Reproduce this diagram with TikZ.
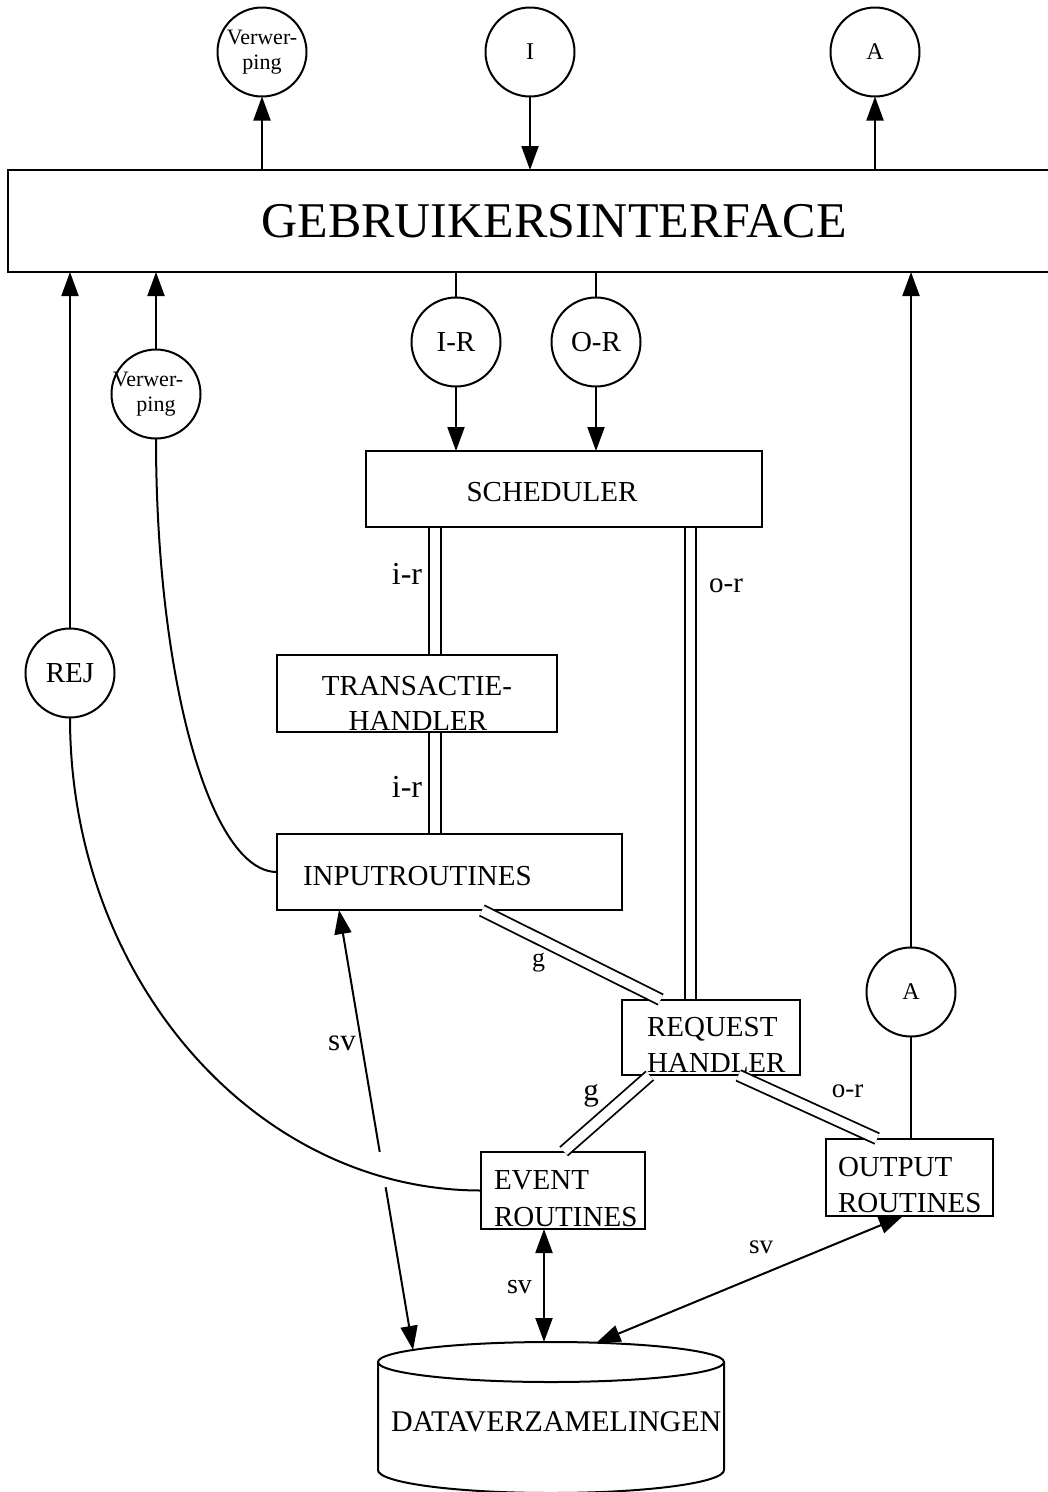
\documentclass[tikz,border=0pt]{standalone}
\usepackage{fontspec}
\setmainfont{Liberation Serif}
\usetikzlibrary{arrows.meta,shapes.geometric,calc}

\begin{document}
\begin{tikzpicture}[x=1pt, y=-1pt,
  every node/.style={inner sep=0pt, outer sep=0pt},
  box/.style={draw, line width=2pt, rectangle},
  bubble/.style={draw, line width=2pt, circle, minimum size=89pt, align=center,
                 font=\fontsize{29pt}{35pt}\selectfont},
  small/.style={font=\fontsize{24pt}{28pt}\selectfont},
  tiny/.style={font=\fontsize{22pt}{25pt}\selectfont},
  txt/.style={font=\fontsize{29pt}{35pt}\selectfont},
  lab/.style={anchor=base, font=\fontsize{#1pt}{#1pt}\selectfont},
  flow/.style={line width=2pt},
  bigtip/.tip={Triangle[length=24pt,width=17pt]},
  arr/.style={flow, -bigtip},
  biarr/.style={flow, bigtip-bigtip},
  pair/.style={double, line width=1.8pt, double distance=9.5pt,
               shorten <=1pt, shorten >=1pt},
]
\fill[white] (0,0) rectangle (1048,1492);
\useasboundingbox (0,0) rectangle (1048,1492);

% --- user interface and its external flows
\node[box, minimum width=1092pt, minimum height=102pt,
      font=\fontsize{50pt}{60pt}\selectfont] (gui) at (554,221) {GEBRUIKERSINTERFACE};
\node[bubble, tiny]  (vtop) at (262,52) {\raisebox{-8pt}{Verwer-}\\\raisebox{-8pt}{ping}};
\node[bubble, small] (itop) at (530,52) {I};
\node[bubble, small] (atop) at (875,52) {A};

% --- flows between interface and scheduler
\node[bubble] (ir) at (456,342) {I-R};
\node[bubble] (or) at (596,342) {O-R};
\node[bubble, tiny] (vlow) at (156,394) {\hspace*{-16pt}Verwer-\\ping};
\node[bubble] (rej) at (70,673) {REJ};
\node[bubble, small] (alow) at (911,992) {A};

% --- processes
\node[box, minimum width=396pt, minimum height=76pt] (sched) at (564,489) {};
\node[txt, anchor=base] (sched-t) at (552,501.5) {SCHEDULER};

\node[box, minimum width=280pt, minimum height=77pt] (trans) at (417,693.5) {};
\node[txt, anchor=base] (trans-t1) at (417,695.5) {TRANSACTIE-};
\node[txt, anchor=base] (trans-t2) at (418,730) {HANDLER};

\node[box, minimum width=345pt, minimum height=76pt] (input) at (449.5,872) {};
\node[txt, anchor=base west] (input-t) at (303,885.5) {INPUTROUTINES};

\node[box, minimum width=178pt, minimum height=75pt] (req) at (711,1037.5) {};
\node[txt, anchor=base west] (req-t1) at (647,1036.5) {REQUEST};
\node[txt, anchor=base west] (req-t2) at (647,1072.5) {HANDLER};

\node[box, minimum width=164pt, minimum height=77pt] (event) at (563,1190.5) {};
\node[txt, anchor=base west] (event-t1) at (494,1189.5) {EVENT};
\node[txt, anchor=base west] (event-t2) at (494,1226.5) {ROUTINES};

\node[box, minimum width=167pt, minimum height=77pt] (output) at (909.5,1177.5) {};
\node[txt, anchor=base west] (output-t1) at (838,1176.5) {OUTPUT};
\node[txt, anchor=base west] (output-t2) at (838,1212.5) {ROUTINES};

% --- data store (cylinder)
\node[draw, line width=2pt, ellipse, minimum width=346pt, minimum height=40pt] (db) at (551,1362) {};
\draw[flow] (db.west) -- ++(0,108)
  arc[start angle=180, end angle=360, x radius=173pt, y radius=23pt] -- (db.east);
\node[anchor=base west, font=\fontsize{30pt}{36pt}\selectfont] (db-t) at (391,1431.5) {DATAVERZAMELINGEN};

% --- interface flows
\draw[arr] (vtop.south |- gui.north) -- (vtop.south);
\draw[arr] (itop.south) -- (itop.south |- gui.north);
\draw[arr] (atop.south |- gui.north) -- (atop.south);
\draw[flow] (ir.north |- gui.south) -- (ir.north);
\draw[flow] (or.north |- gui.south) -- (or.north);
\draw[arr] (ir.south) -- (ir.south |- sched.north);
\draw[arr] (or.south) -- (or.south |- sched.north);
\draw[arr] (vlow.north) -- (vlow.north |- gui.south);
\draw[arr] (rej.north) -- (rej.north |- gui.south);
\draw[arr] (alow.north) -- (alow.north |- gui.south);
\draw[flow] (alow.south |- output.north) -- (alow.south);

% --- control flows (double lines)
\coordinate (p1) at ([xshift=18pt]trans.north);
\coordinate (p2) at ([xshift=18pt]trans.south);
\coordinate (p3) at ([xshift=-20.5pt]req.north);
\draw[pair] (p1 |- sched.south) -- (p1);
\draw[pair] (p2) -- (p2 |- input.north);
\draw[pair] (p3 |- sched.south) -- (p3);
\draw[pair] ([xshift=31.5pt]input.south) -- ([xshift=-49.5pt]req.north);
\draw[pair] ([xshift=-60.5pt]req.south) -- (event.north);
\draw[pair] ([xshift=26.5pt]req.south) -- ([xshift=-31.5pt]output.north);

% --- store access
\coordinate (svin) at ([xshift=-110.5pt]input.south);
\coordinate (svev) at ([xshift=-19pt]event.south);
\coordinate (svout) at ([xshift=-6.5pt]output.south);
\draw[biarr] (db.175) -- (svin);
\draw[white, line width=6pt] ($(db.175)!0.37!(svin)$) -- ($(db.175)!0.45!(svin)$);
\draw[biarr] (svev) -- (svev |- db.north);
\draw[biarr] (svout) -- (db.23);

% --- rejection flows
\draw[flow] (vlow.south) .. controls +(0,240) and +(-67,0) .. (input.west);
\draw[flow] (rej.south) .. controls +(0,261) and +(-226,0) .. (event.west);

% --- flow labels
\node[lab=32] (l-ir1) at (407,584) {i-r};
\node[lab=32] (l-ir2) at (407,797) {i-r};
\node[lab=29] (l-or1) at (726,592) {o-r};
\node[lab=27] (l-or2) at (847.5,1097) {o-r};
\node[lab=26] (l-g1) at (538.5,966) {g};
\node[lab=31] (l-g2) at (591,1100) {g};
\node[lab=31] (l-sv1) at (342,1050) {sv};
\node[lab=28] (l-sv2) at (519.5,1293) {sv};
\node[lab=27] (l-sv3) at (761,1253) {sv};
\end{tikzpicture}
\end{document}
